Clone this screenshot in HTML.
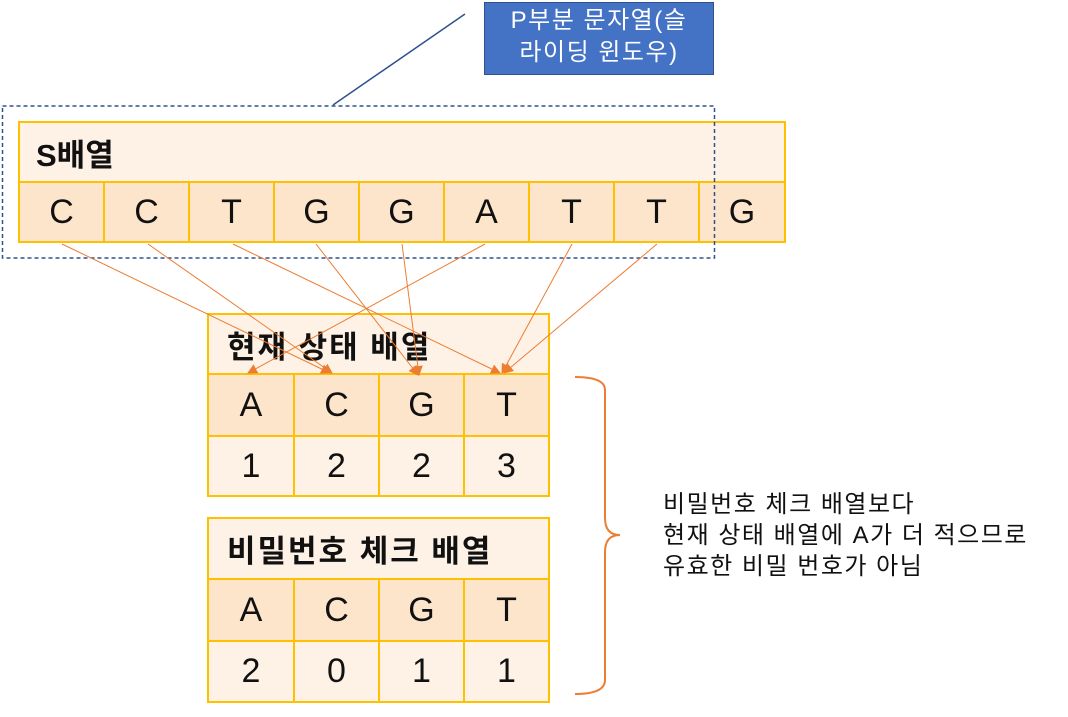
<!DOCTYPE html>
<html><head><meta charset="utf-8"><style>
body{margin:0;width:1068px;height:717px;background:#fff;position:relative;overflow:hidden;font-family:"Liberation Sans","Noto Sans CJK KR",sans-serif}
.b{position:absolute;box-sizing:border-box;border:2px solid #FFC000;display:flex;align-items:center;justify-content:center;font-size:34px;color:#111}
.h{background:#FEF2E6;justify-content:flex-start;padding-left:18px;font-weight:bold;font-size:31px;letter-spacing:2px}
.d{background:#FDE5CC}.l{background:#FEF2E6}
</style></head><body>
<div class="b h" style="left:18px;top:121px;width:768px;height:62px;padding-left:16px;letter-spacing:0px">S배열</div>
<div class="b d" style="left:18px;top:181px;width:87px;height:62px">C</div>
<div class="b d" style="left:103px;top:181px;width:87px;height:62px">C</div>
<div class="b d" style="left:188px;top:181px;width:87px;height:62px">T</div>
<div class="b d" style="left:273px;top:181px;width:87px;height:62px">G</div>
<div class="b d" style="left:358px;top:181px;width:87px;height:62px">G</div>
<div class="b d" style="left:443px;top:181px;width:87px;height:62px">A</div>
<div class="b d" style="left:528px;top:181px;width:87px;height:62px">T</div>
<div class="b d" style="left:613px;top:181px;width:87px;height:62px">T</div>
<div class="b d" style="left:698px;top:181px;width:88px;height:62px">G</div>

<div class="b h" style="left:207px;top:313px;width:343px;height:62px">현재 상태 배열</div>
<div class="b d" style="left:207px;top:373px;width:88px;height:64px">A</div>
<div class="b d" style="left:293px;top:373px;width:87px;height:64px">C</div>
<div class="b d" style="left:378px;top:373px;width:87px;height:64px">G</div>
<div class="b d" style="left:463px;top:373px;width:87px;height:64px">T</div>
<div class="b l" style="left:207px;top:435px;width:88px;height:62px">1</div>
<div class="b l" style="left:293px;top:435px;width:87px;height:62px">2</div>
<div class="b l" style="left:378px;top:435px;width:87px;height:62px">2</div>
<div class="b l" style="left:463px;top:435px;width:87px;height:62px">3</div>

<div class="b h" style="left:207px;top:517px;width:343px;height:63px">비밀번호 체크 배열</div>
<div class="b d" style="left:207px;top:578px;width:88px;height:64px">A</div>
<div class="b d" style="left:293px;top:578px;width:87px;height:64px">C</div>
<div class="b d" style="left:378px;top:578px;width:87px;height:64px">G</div>
<div class="b d" style="left:463px;top:578px;width:87px;height:64px">T</div>
<div class="b l" style="left:207px;top:640px;width:88px;height:63px">2</div>
<div class="b l" style="left:293px;top:640px;width:87px;height:63px">0</div>
<div class="b l" style="left:378px;top:640px;width:87px;height:63px">1</div>
<div class="b l" style="left:463px;top:640px;width:87px;height:63px">1</div>

<div style="position:absolute;left:484px;top:2px;width:230px;height:73px;box-sizing:border-box;background:#4472C4;border:1px solid #2F528F;color:#fff;font-size:24px;letter-spacing:1.5px;text-align:center;line-height:32px;padding-top:2px;white-space:nowrap">P부분 문자열(슬<br>라이딩 윈도우)</div>

<svg width="1068" height="717" style="position:absolute;left:0;top:0">
<defs><marker id="a" markerWidth="10" markerHeight="10" refX="9" refY="5" orient="auto" markerUnits="userSpaceOnUse"><path d="M0,0L10,5L0,10z" fill="#ED7D31"/></marker></defs>
<rect x="2.5" y="106" width="712" height="152" fill="none" stroke="#2F528F" stroke-width="1.5" stroke-dasharray="4,3"/>
<line x1="465" y1="14" x2="333" y2="105" stroke="#2F528F" stroke-width="1.5"/>
<g stroke="#ED7D31" stroke-width="1" fill="none" marker-end="url(#a)">
<line x1="62" y1="244" x2="330" y2="373"/>
<line x1="148" y1="244" x2="332" y2="373"/>
<line x1="233" y1="244" x2="500" y2="373"/>
<line x1="316" y1="244" x2="418" y2="375"/>
<line x1="402" y1="244" x2="419" y2="375"/>
<line x1="485" y1="244" x2="248" y2="373"/>
<line x1="572" y1="244" x2="502" y2="373"/>
<line x1="657" y1="244" x2="504" y2="373"/>
</g>
<path d="M575,377 Q605,377 605,390 L605,518 Q605,535 620,535 Q605,535 605,552 L605,680 Q605,694 575,694" fill="none" stroke="#ED7D31" stroke-width="2"/>
</svg>
<div style="position:absolute;left:663px;top:489px;font-size:24px;letter-spacing:1.5px;line-height:31px;color:#111;white-space:nowrap">비밀번호 체크 배열보다<br>현재 상태 배열에 A가 더 적으므로<br>유효한 비밀 번호가 아님</div>
</body></html>
